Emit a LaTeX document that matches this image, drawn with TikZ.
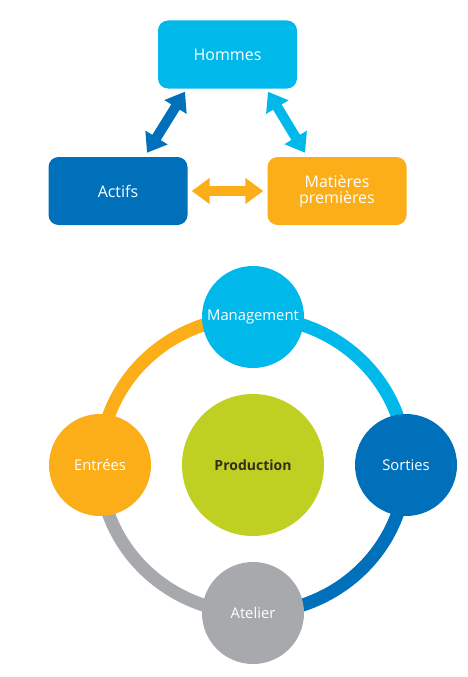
\documentclass[tikz,border=0pt]{standalone}
\usepackage{fontspec}
\setmainfont{Open Sans}
\usetikzlibrary{arrows.meta}
\definecolor{lblue}{HTML}{00B9EA}
\definecolor{dblue}{HTML}{0070BA}
\definecolor{orng}{HTML}{FBAE17}
\definecolor{gry}{HTML}{A7A9AC}
\definecolor{grn}{HTML}{C0D022}
\definecolor{dtext}{HTML}{3A2A1A}
\begin{document}
\begin{tikzpicture}[x=1pt,y=-1pt,
  box/.style={rounded corners=10pt, minimum width=139pt, minimum height=68pt, text=white,
    font=\fontsize{16}{17}\selectfont, align=center, inner sep=0pt},
  dbl/.style={line width=10pt, {Triangle[length=18pt,width=25pt]}-{Triangle[length=18pt,width=25pt]}},
  bub/.style={circle, minimum size=102pt, text=white, inner sep=0pt, font=\fontsize{14.8}{16}\selectfont},
  ring/.style={line width=13pt}]
\useasboundingbox (0,0) rectangle (468,677);
% top diagram
\node[box, fill=lblue] (hom) at (227.5,54.5) {Hommes};
\node[box, fill=dblue] (act) at (118,191) {Actifs};
\node[box, fill=orng] (mat) at (337,191) {Matières\\[-1pt]premières};
\draw[dbl, dblue] ([xshift=-42.5pt,yshift=-3pt]hom.south) -- ([xshift=29pt,yshift=4pt]act.north);
\draw[dbl, lblue] ([xshift=40.5pt,yshift=-3pt]hom.south) -- ([xshift=-32pt,yshift=4pt]mat.north);
\draw[dbl, orng] ([xshift=4pt]act.east) -- ([xshift=-4pt]mat.west);
% cycle
\coordinate (c) at (253,465);
\coordinate (pm) at (253,317);
\coordinate (ps) at (406,465);
\coordinate (pa) at (253,613);
\coordinate (pe) at (100,465);
\draw[ring, orng] (pe) arc[start angle=180, end angle=90, x radius=153pt, y radius=148pt];
\draw[ring, lblue] (pm) arc[start angle=90, end angle=0, x radius=153pt, y radius=148pt];
\draw[ring, dblue] (ps) arc[start angle=0, end angle=-90, x radius=153pt, y radius=148pt];
\draw[ring, gry] (pa) arc[start angle=270, end angle=180, x radius=153pt, y radius=148pt];
\node[bub, fill=lblue] (man) at (pm) {Management};
\node[bub, fill=dblue] (sor) at (ps) {Sorties};
\node[bub, fill=gry] (ate) at (pa) {Atelier};
\node[bub, fill=orng] (ent) at (pe) {Entrées};
\node[circle, fill=grn, minimum size=142pt, inner sep=0pt, text=dtext,
  font=\fontsize{14}{15}\selectfont\bfseries] (prod) at (c) {Production};
\end{tikzpicture}
\end{document}
